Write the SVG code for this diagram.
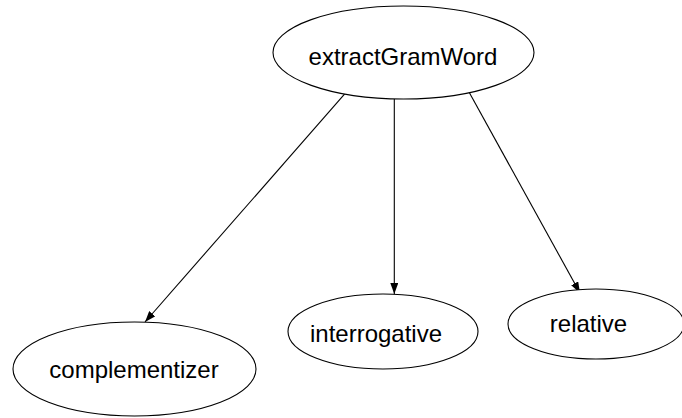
<svg xmlns="http://www.w3.org/2000/svg" width="682" height="418" viewBox="0 0 682 418">
<style>
.node ellipse{fill:#fff;stroke:#000;stroke-width:1.1}
.node text{font-family:"Liberation Sans",Arial,sans-serif;font-size:24px;fill:#000;text-anchor:middle}
.edge{stroke:#000;stroke-width:1.1;fill:none;marker-end:url(#ah)}
</style>
<defs>
<marker id="ah" viewBox="0 0 11 8" refX="11" refY="4" markerWidth="11" markerHeight="8" markerUnits="userSpaceOnUse" orient="auto">
<path d="M0,0 L11,4 L0,8 z" fill="#000"/>
</marker>
</defs>
<rect width="682" height="418" fill="#fff"/>
<g id="connectors">
<line class="edge" x1="346.7" y1="91.7" x2="145" y2="322"/>
<line class="edge" x1="394.3" y1="99" x2="394.3" y2="294"/>
<line class="edge" x1="469" y1="92" x2="580" y2="293"/>
</g>
<g id="extractGramWord" class="node">
<ellipse cx="403.5" cy="52.5" rx="130.5" ry="46.5"/>
<text x="403" y="65">extractGramWord</text>
</g>
<g id="complementizer" class="node">
<ellipse cx="134.5" cy="369" rx="121.5" ry="47"/>
<text x="134" y="378">complementizer</text>
</g>
<g id="interrogative" class="node">
<ellipse cx="383" cy="331.5" rx="95" ry="37.5"/>
<text x="376" y="342">interrogative</text>
</g>
<g id="relative" class="node">
<ellipse cx="596" cy="324" rx="88" ry="35"/>
<text x="588.5" y="332">relative</text>
</g>
</svg>
